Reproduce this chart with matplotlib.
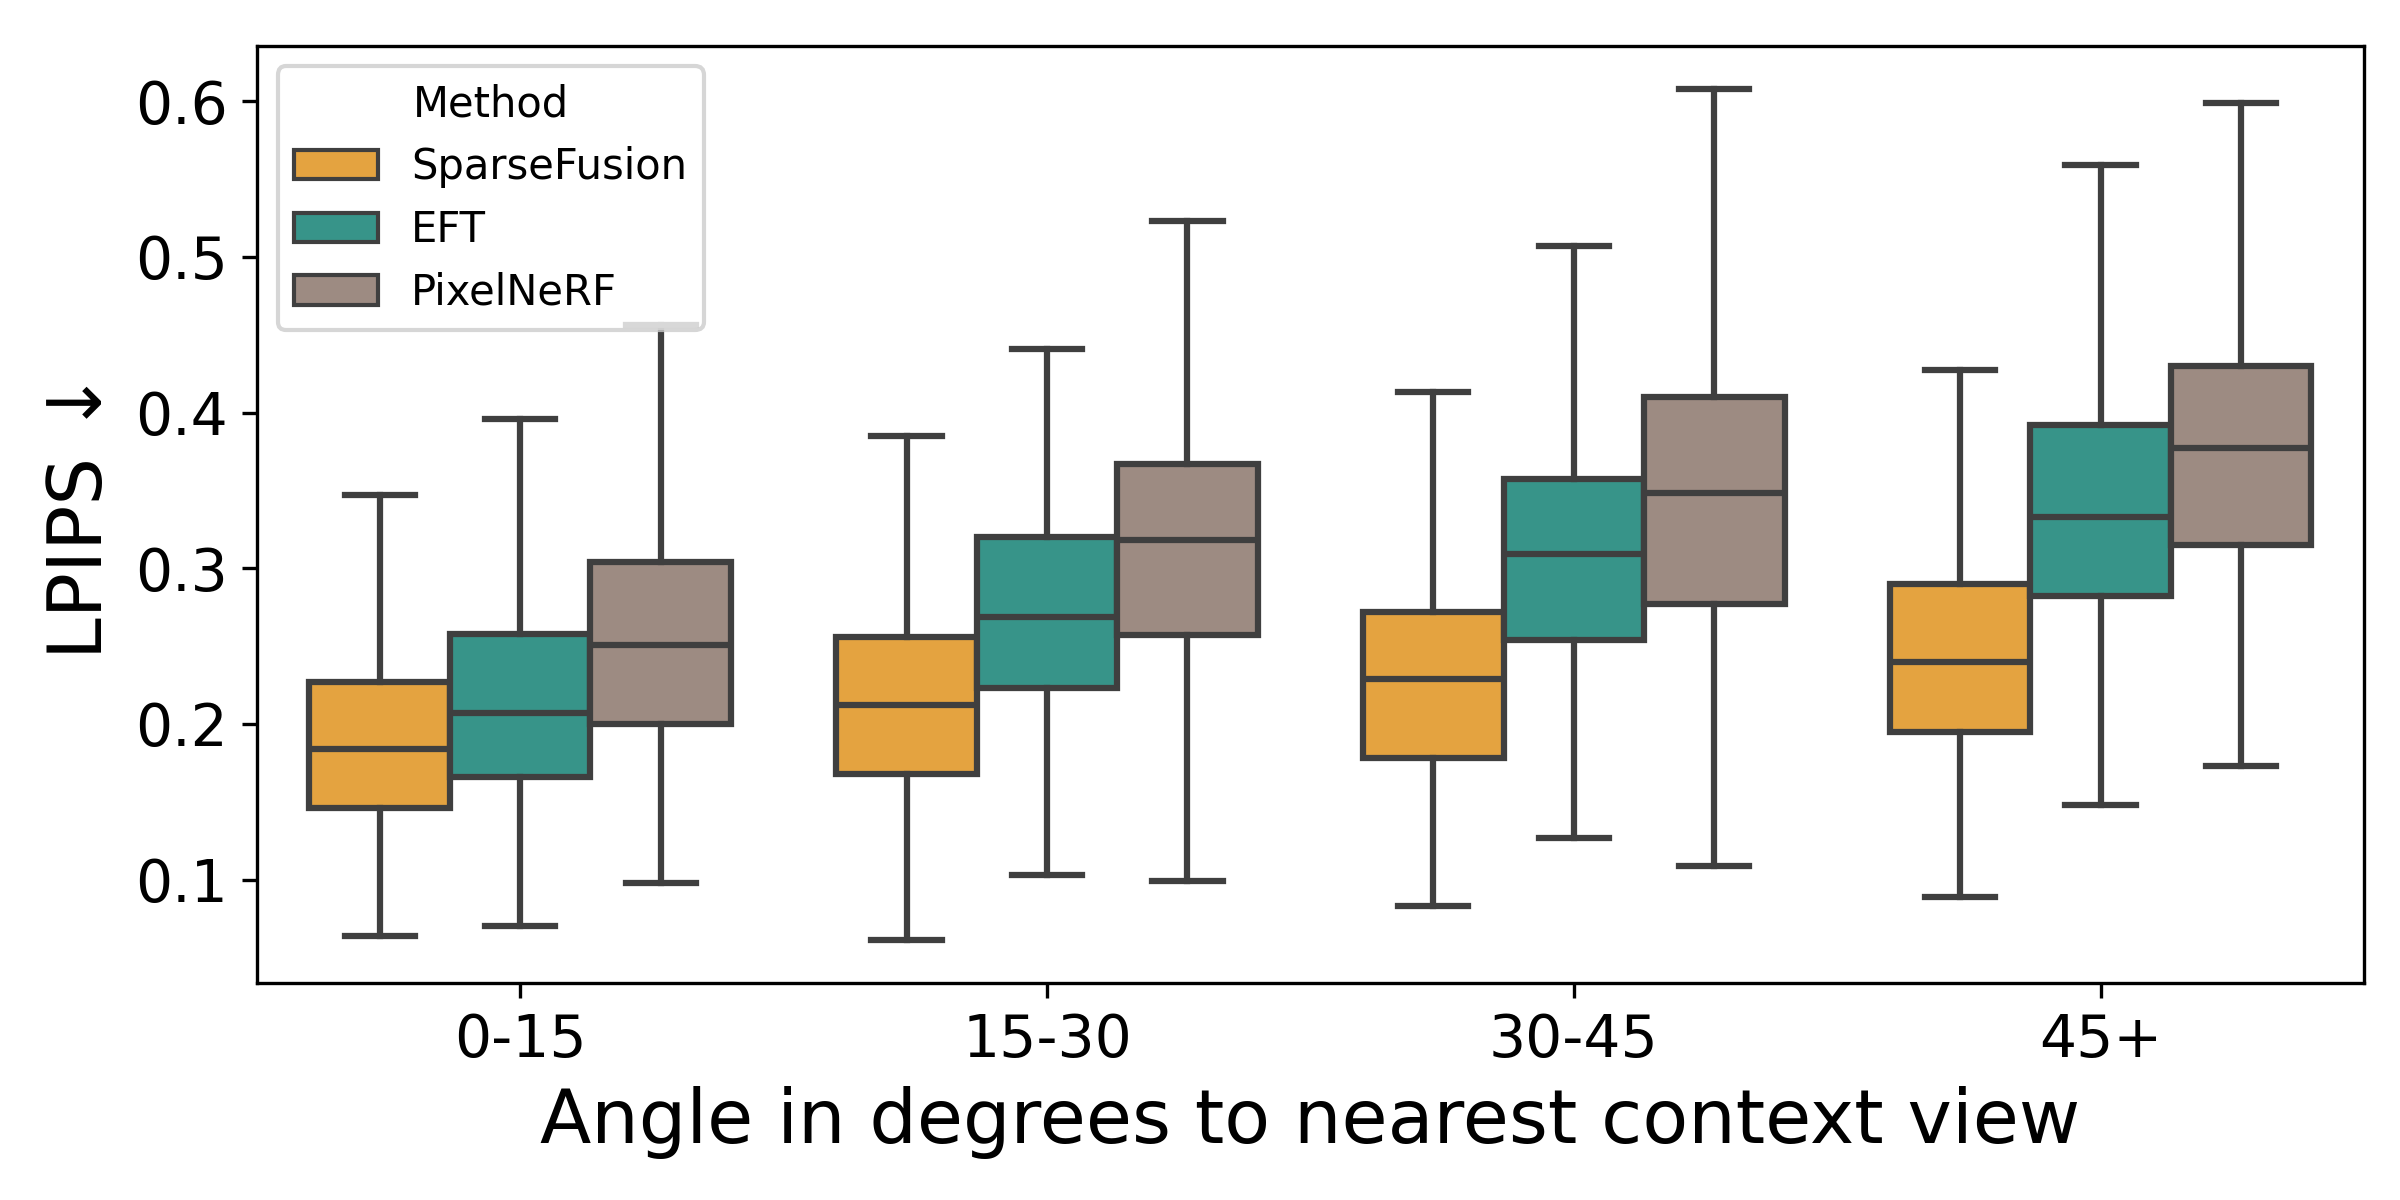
import matplotlib
matplotlib.use("Agg")
import matplotlib.pyplot as plt
from matplotlib.patches import Patch
import numpy as np

categories = ["0-15", "15-30", "30-45", "45+"]
methods = ["SparseFusion", "EFT", "PixelNeRF"]
colors = ["#E4A340", "#379489", "#9D8B82"]

# per method: lists over categories
whislo = {
    "SparseFusion": [0.064, 0.061, 0.083, 0.089],
    "EFT":          [0.070, 0.103, 0.127, 0.148],
    "PixelNeRF":    [0.098, 0.099, 0.109, 0.173],
}
q1 = {
    "SparseFusion": [0.146, 0.168, 0.178, 0.195],
    "EFT":          [0.166, 0.223, 0.254, 0.282],
    "PixelNeRF":    [0.200, 0.257, 0.277, 0.315],
}
med = {
    "SparseFusion": [0.184, 0.212, 0.229, 0.240],
    "EFT":          [0.207, 0.269, 0.309, 0.333],
    "PixelNeRF":    [0.251, 0.318, 0.348, 0.377],
}
q3 = {
    "SparseFusion": [0.227, 0.256, 0.272, 0.290],
    "EFT":          [0.258, 0.320, 0.357, 0.392],
    "PixelNeRF":    [0.304, 0.367, 0.410, 0.430],
}
whishi = {
    "SparseFusion": [0.347, 0.385, 0.413, 0.427],
    "EFT":          [0.396, 0.441, 0.507, 0.559],
    "PixelNeRF":    [0.456, 0.523, 0.608, 0.599],
}

fig = plt.figure(figsize=(8, 4), dpi=300)
ax = fig.add_axes([0.107, 0.181, 0.878, 0.781])

line_c = "#3f3f3f"
lw = 1.5
group_w = 0.8
n = len(methods)
bw = group_w / n

for j, m in enumerate(methods):
    stats = []
    pos = []
    for i, c in enumerate(categories):
        stats.append(dict(whislo=whislo[m][i], q1=q1[m][i], med=med[m][i],
                          q3=q3[m][i], whishi=whishi[m][i], fliers=[]))
        pos.append(i - group_w / 2 + bw * (j + 0.5))
    ax.bxp(stats, positions=pos, widths=bw, patch_artist=True,
           showfliers=False, manage_ticks=False,
           boxprops=dict(facecolor=colors[j], edgecolor=line_c, linewidth=lw),
           medianprops=dict(color=line_c, linewidth=lw),
           whiskerprops=dict(color=line_c, linewidth=lw),
           capprops=dict(color=line_c, linewidth=lw),
           capwidths=bw / 2)

ax.set_xlim(-0.5, len(categories) - 0.5)
ax.set_ylim(0.0338, 0.6356)
ax.set_xticks(range(len(categories)))
ax.set_xticklabels(categories)
ax.set_yticks([0.1, 0.2, 0.3, 0.4, 0.5, 0.6])
ax.tick_params(axis="both", labelsize=14)
ax.set_xlabel("Angle in degrees to nearest context view", fontsize=18)
ax.set_ylabel("LPIPS ↓", fontsize=18)

handles = [Patch(facecolor=colors[j], edgecolor=line_c, linewidth=1.0, label=m)
           for j, m in enumerate(methods)]
ax.legend(handles=handles, title="Method", loc="upper left", fontsize=10,
          title_fontsize=10)

fig.savefig("out.png", dpi=300)
